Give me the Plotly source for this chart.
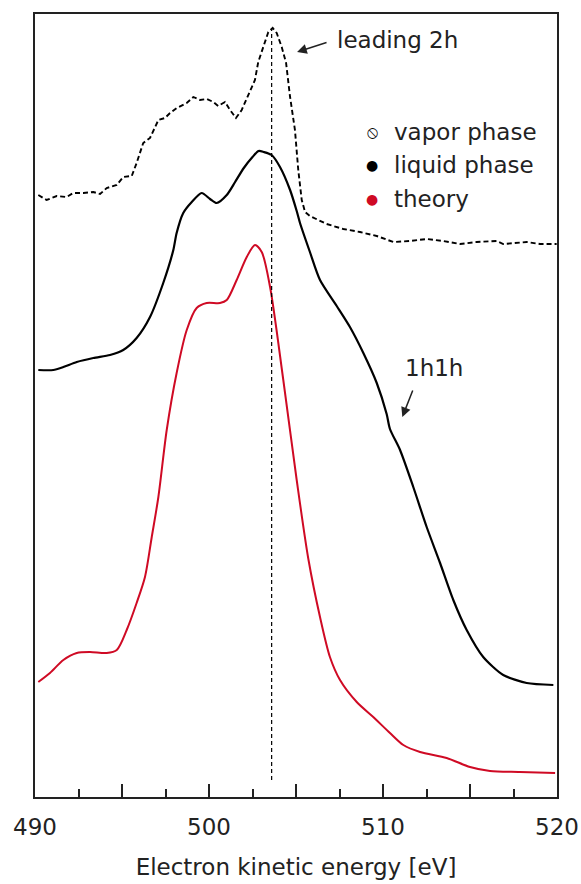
import plotly.graph_objects as go

# Auger electron spectra (arb. units, curves vertically offset)
vapor_ev = [490.19, 490.67, 491.25, 491.82, 492.20, 492.78, 493.35, 493.74, 494.12, 494.70,
            495.07, 495.56, 495.84, 496.22, 496.61, 497.09, 497.47, 497.76, 498.14, 498.72,
            499.10, 499.48, 499.87, 500.25, 500.53, 500.92, 501.21, 501.55, 501.88, 502.36,
            502.64, 502.83, 503.12, 503.41, 503.66, 503.89, 504.18, 504.43, 504.66, 504.94,
            505.13, 505.33, 505.52, 505.80, 506.76, 507.72, 508.68, 509.64, 510.59, 511.55,
            512.51, 513.47, 514.43, 515.39, 516.53, 516.91, 518.26, 519.02, 519.98]
vapor_int = [602, 597, 601, 600, 604, 604, 605, 603, 609, 612,
             620, 621, 634, 654, 659, 677, 679, 684, 689, 694,
             700, 697, 698, 695, 691, 695, 687, 679, 687, 707,
             717, 735, 750, 765, 769, 764, 750, 734, 700, 667,
             627, 597, 585, 581, 573, 568, 565, 561, 555, 556,
             558, 556, 553, 555, 556, 553, 555, 553, 553]

liquid_ev = [490.19, 491.05, 491.63, 492.40, 493.35, 494.31, 495.07, 495.84, 496.61, 497.37,
             497.95, 498.14, 498.52, 499.01, 499.58, 500.06, 500.44, 501.02, 501.50, 502.00,
             502.50, 502.85, 503.15, 503.60, 504.08, 504.66, 505.04, 505.23, 505.80, 506.38,
             507.34, 508.10, 508.87, 509.64, 510.21, 510.40, 510.98, 511.74, 512.51, 513.28,
             514.04, 514.81, 515.76, 516.91, 518.26, 519.79]
liquid_int = [427, 427, 430, 435, 439, 442, 447, 459, 480, 514,
              547, 564, 584, 595, 604, 598, 594, 602, 615, 629,
              640, 646, 645, 642, 630, 607, 586, 574, 545, 517,
              491, 470, 444, 414, 383, 368, 347, 310, 270, 234,
              197, 167, 140, 122, 114, 112]

theory_ev = [490.19, 490.86, 491.63, 492.40, 493.16, 494.12, 494.70, 495.27, 495.84, 496.32,
             496.71, 497.09, 497.57, 498.14, 498.72, 499.29, 499.87, 500.63, 501.02, 501.59,
             502.17, 502.64, 503.03, 503.51, 504.27, 505.04, 505.71, 506.38, 506.95, 507.53,
             508.49, 509.44, 510.40, 511.17, 512.13, 513.66, 515.00, 516.15, 517.87, 519.89]
theory_int = [115, 124, 137, 144, 145, 144, 147, 167, 194, 220,
              260, 300, 367, 424, 467, 489, 494, 494, 497, 517,
              540, 552, 545, 510, 417, 317, 238, 180, 140, 117,
              95, 80, 64, 52, 45, 39, 30, 26, 25, 24]

leading_peak_ev = 503.6
x_tickvals = [490, 495, 500, 505, 510, 515, 520]
x_ticktext = ["490", "", "500", "", "510", "", "520"]

FONT = "DejaVu Sans, Verdana, sans-serif"
TEXT = "#222222"
RED = "#cf0a24"
FS = 23

fig = go.Figure()

fig.add_trace(go.Scatter(x=vapor_ev, y=vapor_int, mode="lines", name="vapor phase",
                         line=dict(color="black", width=1.9, dash="5px,3px"),
                         showlegend=False))
fig.add_trace(go.Scatter(x=liquid_ev, y=liquid_int, mode="lines", name="liquid phase",
                         line=dict(color="black", width=2.2, shape="spline", smoothing=0.7),
                         showlegend=False))
fig.add_trace(go.Scatter(x=theory_ev, y=theory_int, mode="lines", name="theory",
                         line=dict(color=RED, width=2.0, shape="spline", smoothing=0.8),
                         showlegend=False))

# dashed marker line through the leading 2h peak
fig.add_shape(type="line", xref="x", yref="y",
              x0=leading_peak_ev, x1=leading_peak_ev, y0=17, y1=max(vapor_int),
              line=dict(color="black", width=1.2, dash="4px,3px"))

# legend built from glyphs + labels
legend_items = [("\u29b8", "black", 17, "vapor phase"),
                ("\u25cf", "black", 14, "liquid phase"),
                ("\u25cf", RED, 14, "theory")]
legend_y = [0.8493, 0.8072, 0.7637]
for (glyph, col, gsize, label), ly in zip(legend_items, legend_y):
    fig.add_annotation(xref="paper", yref="paper", x=0.6456, y=ly, text=glyph,
                       showarrow=False, xanchor="center", yanchor="middle",
                       font=dict(family=FONT, size=gsize, color=col))
    fig.add_annotation(xref="paper", yref="paper", x=0.6839, y=ly, text=label,
                       showarrow=False, xanchor="left", yanchor="middle",
                       font=dict(family=FONT, size=FS, color=TEXT))

# peak labels with arrows
fig.add_annotation(xref="paper", yref="paper", x=0.5747, y=0.9668, text="leading 2h",
                   showarrow=False, xanchor="left", yanchor="middle",
                   font=dict(family=FONT, size=FS, color=TEXT))
fig.add_annotation(x=505.06, y=745, ax=31, ay=-10, text="", showarrow=True,
                   arrowhead=2, arrowsize=1.3, arrowwidth=1.5, arrowcolor=TEXT, standoff=0)
fig.add_annotation(xref="paper", yref="paper", x=0.705, y=0.5479, text="1h1h",
                   showarrow=False, xanchor="left", yanchor="middle",
                   font=dict(family=FONT, size=FS, color=TEXT))
fig.add_annotation(x=511.11, y=380, ax=11, ay=-28, text="", showarrow=True,
                   arrowhead=2, arrowsize=1.3, arrowwidth=1.5, arrowcolor=TEXT, standoff=0)

fig.update_xaxes(range=[490, 520], tickmode="array", tickvals=x_tickvals, ticktext=x_ticktext,
                 ticks="inside", ticklen=13, tickwidth=1.5, tickcolor="#222",
                 minor=dict(tickmode="linear", tick0=490, dtick=2.5, ticks="inside",
                            ticklen=8, tickwidth=1.5, tickcolor="#222"),
                 showline=True, linecolor="#222", linewidth=2, mirror=True,
                 showgrid=False, zeroline=False, ticklabelstandoff=8,
                 tickfont=dict(family=FONT, size=FS, color=TEXT),
                 title=dict(text="Electron kinetic energy [eV]", standoff=20,
                            font=dict(family=FONT, size=FS, color=TEXT)))
fig.update_yaxes(range=[0, 783], showticklabels=False, ticks="",
                 showline=True, linecolor="#222", linewidth=2, mirror=True,
                 showgrid=False, zeroline=False)

fig.update_layout(width=581, height=884, margin=dict(l=35, r=24, t=14, b=87, autoexpand=False),
                  paper_bgcolor="white", plot_bgcolor="white", showlegend=False)

fig.write_html("out.html")
